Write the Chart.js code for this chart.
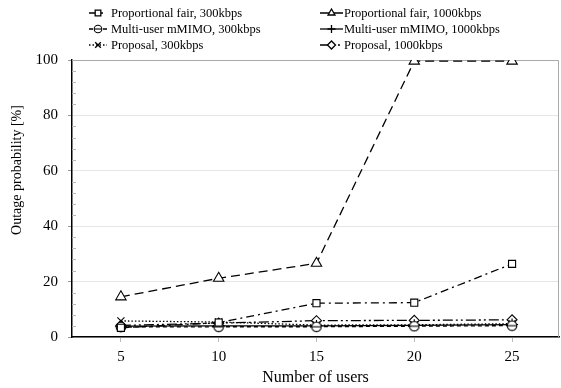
<!DOCTYPE html>
<html><head><meta charset="utf-8">
<script src="https://cdn.jsdelivr.net/npm/chart.js@4"></script>
<style>html,body{margin:0;padding:0;background:#fff}#wrap{width:561px;height:388px}</style>
</head><body><div id="wrap"><canvas id="c" width="561" height="388"></canvas></div>
<script>
const users = [5, 10, 15, 20, 25];
const xTicks = [5, 10, 15, 20, 25];
const yTickLabels = [0, 20, 40, 60, 80, 100];
const pf300 = [3.3, 5.2, 12.2, 12.4, 26.4];
const pf1000 = [14.5, 21.2, 26.6, 99.6, 99.6];
const mu300 = [3.6, 3.7, 3.7, 3.9, 4.1];
const mu1000 = [3.9, 4.0, 4.0, 4.2, 4.5];
const prop300 = [5.8, 5.4, 4.3, 4.4, 4.8];
const prop1000 = [4.2, 5.0, 5.9, 6.0, 6.2];
const names = ['Proportional fair, 300kbps','Proportional fair, 1000kbps','Multi-user mMIMO, 300kbps','Multi-user mMIMO, 1000kbps','Proposal, 300kbps','Proposal, 1000kbps'];
const yTitle = 'Outage probability [%]';
const xTitle = 'Number of users';

function circMinus(sz){
  const c=document.createElement('canvas');c.width=sz;c.height=sz;const g=c.getContext('2d');
  const m=sz/2, r=sz/2-1.2;
  g.fillStyle='#fff';g.strokeStyle='#000';g.lineWidth=1.1;
  g.beginPath();g.arc(m,m,r,0,Math.PI*2);g.fill();g.stroke();
  g.beginPath();g.moveTo(m-r,m);g.lineTo(m+r,m);g.stroke();return c;
}
const cm = circMinus(12);
const cmSmall = circMinus(10);
const serif = "'Liberation Serif','DejaVu Serif',serif";

function ds(label, data, dash, ps, r){
  return {label, data: users.map((u,i)=>({x:u,y:data[i]})), borderColor:'#000', borderWidth:1.3,
    borderDash:dash, pointStyle:ps, pointRadius:r, pointBorderColor:'#000', pointBackgroundColor:'#fff',
    pointBorderWidth:1.1, fill:false, tension:0};
}
const datasets = [
  ds(names[0], pf300, [8,4,2,4], 'rect', 5),
  ds(names[1], pf1000, [9,5], 'triangle', 6),
  ds(names[2], mu300, [4,3], cm, 6),
  ds(names[3], mu1000, [], 'cross', 6),
  ds(names[4], prop300, [1.5,2], 'crossRot', 5),
  ds(names[5], prop1000, [10,3,2,3,2,3], 'rectRot', 5),
];

const legendPos = [[89,13],[320,13],[89,29],[320,29],[89,45],[320,45]];
const deco = {
  id:'deco',
  beforeDatasetsDraw(chart){
    const {ctx, chartArea:a, scales:{y}} = chart;
    ctx.save();
    ctx.strokeStyle='#aaa';ctx.lineWidth=1;
    ctx.beginPath();ctx.moveTo(a.left,a.top+0.5);ctx.lineTo(a.right-0.5,a.top+0.5);ctx.lineTo(a.right-0.5,a.bottom);ctx.stroke();
    ctx.strokeStyle='#bbb';
    for(let v=0;v<=100;v+=4){ if(v%20===0) continue; const py=Math.round(y.getPixelForValue(v))+0.5;
      ctx.beginPath();ctx.moveTo(a.left,py);ctx.lineTo(a.left+4,py);ctx.stroke(); }
    ctx.restore();
  },
  afterDraw(chart){
    const ctx=chart.ctx; ctx.save();
    chart.data.datasets.forEach((d,i)=>{
      const [x,yy]=legendPos[i]; const w = i%2===0?18:23;
      ctx.strokeStyle='#000';ctx.lineWidth=1.3;ctx.setLineDash(d.borderDash);
      ctx.beginPath();ctx.moveTo(x,yy);ctx.lineTo(x+w,yy);ctx.stroke();ctx.setLineDash([]);
      ctx.fillStyle='#fff';ctx.strokeStyle='#000';
      const ps = d.pointStyle===cm ? cmSmall : d.pointStyle;
      Chart.helpers.drawPoint(ctx,{pointStyle:ps,radius:4,borderWidth:1.1},x+w/2,yy);
      ctx.fillStyle='#000';ctx.font="12.5px "+serif;ctx.textBaseline='middle';ctx.textAlign='left';
      ctx.fillText(d.label,x+w+(i%2===0?4:1),yy+1);
    });
    // y axis title
    ctx.translate(17,170);ctx.rotate(-Math.PI/2);
    ctx.fillStyle='#000';ctx.font="14px "+serif;ctx.textAlign='center';ctx.textBaseline='middle';
    ctx.fillText(yTitle,0,0);
    ctx.restore();
  }
};
Chart.defaults.font.family = serif;
new Chart(document.getElementById('c'), {
  type:'line',
  data:{datasets},
  options:{
    responsive:false, animation:false, devicePixelRatio:1,
    layout:{autoPadding:false, padding:{top:60,right:2,left:0,bottom:0}},
    plugins:{legend:{display:false},tooltip:{enabled:false}},
    scales:{
      x:{type:'linear',min:2.5,max:27.4,
        afterBuildTicks(s){s.ticks=xTicks.map(v=>({value:v}));},
        afterFit(s){s.height=51;s.paddingLeft=0;s.paddingRight=0;},
        grid:{drawOnChartArea:false,tickLength:5,color:'#bbb'},
        border:{color:'#000',width:1.5},
        ticks:{color:'#000',font:{size:15,family:serif},padding:6},
        title:{display:true,text:xTitle,color:'#000',font:{size:16,family:serif},padding:{top:0,bottom:1}}
      },
      y:{min:0,max:100,
        afterBuildTicks(s){s.ticks=yTickLabels.map(v=>({value:v}));},
        afterFit(s){s.width=72;s.paddingTop=0;s.paddingBottom=0;},
        grid:{color:'#e6e6e6',tickLength:4,tickColor:'#999'},
        border:{color:'#000',width:1.5},
        ticks:{color:'#000',font:{size:15,family:serif},padding:10},
        title:{display:false}
      }
    }
  },
  plugins:[deco]
});
</script></body></html>
